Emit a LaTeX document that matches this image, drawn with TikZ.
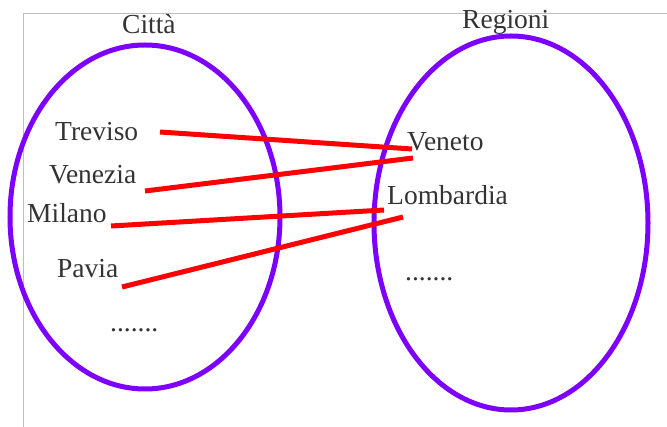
\documentclass[tikz,border=0pt]{standalone}
\usepackage{fontspec}
\setmainfont{Liberation Serif}
\usetikzlibrary{shapes.geometric}
\definecolor{setviolet}{RGB}{125,0,255}
\definecolor{linkred}{RGB}{255,0,0}
\definecolor{framegray}{RGB}{190,190,190}
\tikzset{
  setoval/.style={ellipse, draw=setviolet, line width=5pt, inner sep=0pt},
  label text/.style={anchor=base west, inner sep=0pt, text=black!80,
    font=\fontsize{27.5}{33}\selectfont},
  link/.style={draw=linkred, line width=5pt},
  frame/.style={draw=framegray, line width=1pt}
}
\begin{document}
\begin{tikzpicture}[x=1pt, y=-1pt]
  \useasboundingbox (0,0) rectangle (667,427);
  % thin frame along the top and left
  \coordinate (fr1) at (23,427);
  \coordinate (fr2) at (23,14);
  \coordinate (fr3) at (667,14);
  \draw[frame] (fr1) -- (fr2) -- (fr3);

  % the two sets
  \node[setoval, minimum width=270pt, minimum height=344pt] (cities) at (145,217) {};
  \node[setoval, minimum width=274pt, minimum height=374pt] (regions) at (511,223) {};

  % set titles
  \node[label text] (tcitta) at (122,34) {Città};
  \node[label text] (tregioni) at (462,29) {Regioni};

  % elements of the first set
  \node[label text] (treviso) at (55,141) {Treviso};
  \node[label text] (venezia) at (49,184) {Venezia};
  \node[label text] (milano) at (27,223) {Milano};
  \node[label text] (pavia) at (57,278) {Pavia};
  \node[label text] (dotsA) at (110,332) {.......};

  % elements of the second set
  \node[label text] (veneto) at (407,151) {Veneto};
  \node[label text] (lombardia) at (387,205) {Lombardia};
  \node[label text] (dotsB) at (405,281) {.......};

  % end points of the links
  \coordinate (trevE) at (160,132);
  \coordinate (venezE) at (145,191);
  \coordinate (milE) at (111,226);
  \coordinate (pavE) at (122,287);
  \coordinate (venetoA) at (412,149);
  \coordinate (venetoB) at (413,158);
  \coordinate (lombA) at (384,210);
  \coordinate (lombB) at (403,217);

  % the correspondence
  \draw[link] (trevE) -- (venetoA);
  \draw[link] (venezE) -- (venetoB);
  \draw[link] (milE) -- (lombA);
  \draw[link] (pavE) -- (lombB);
\end{tikzpicture}
\end{document}
